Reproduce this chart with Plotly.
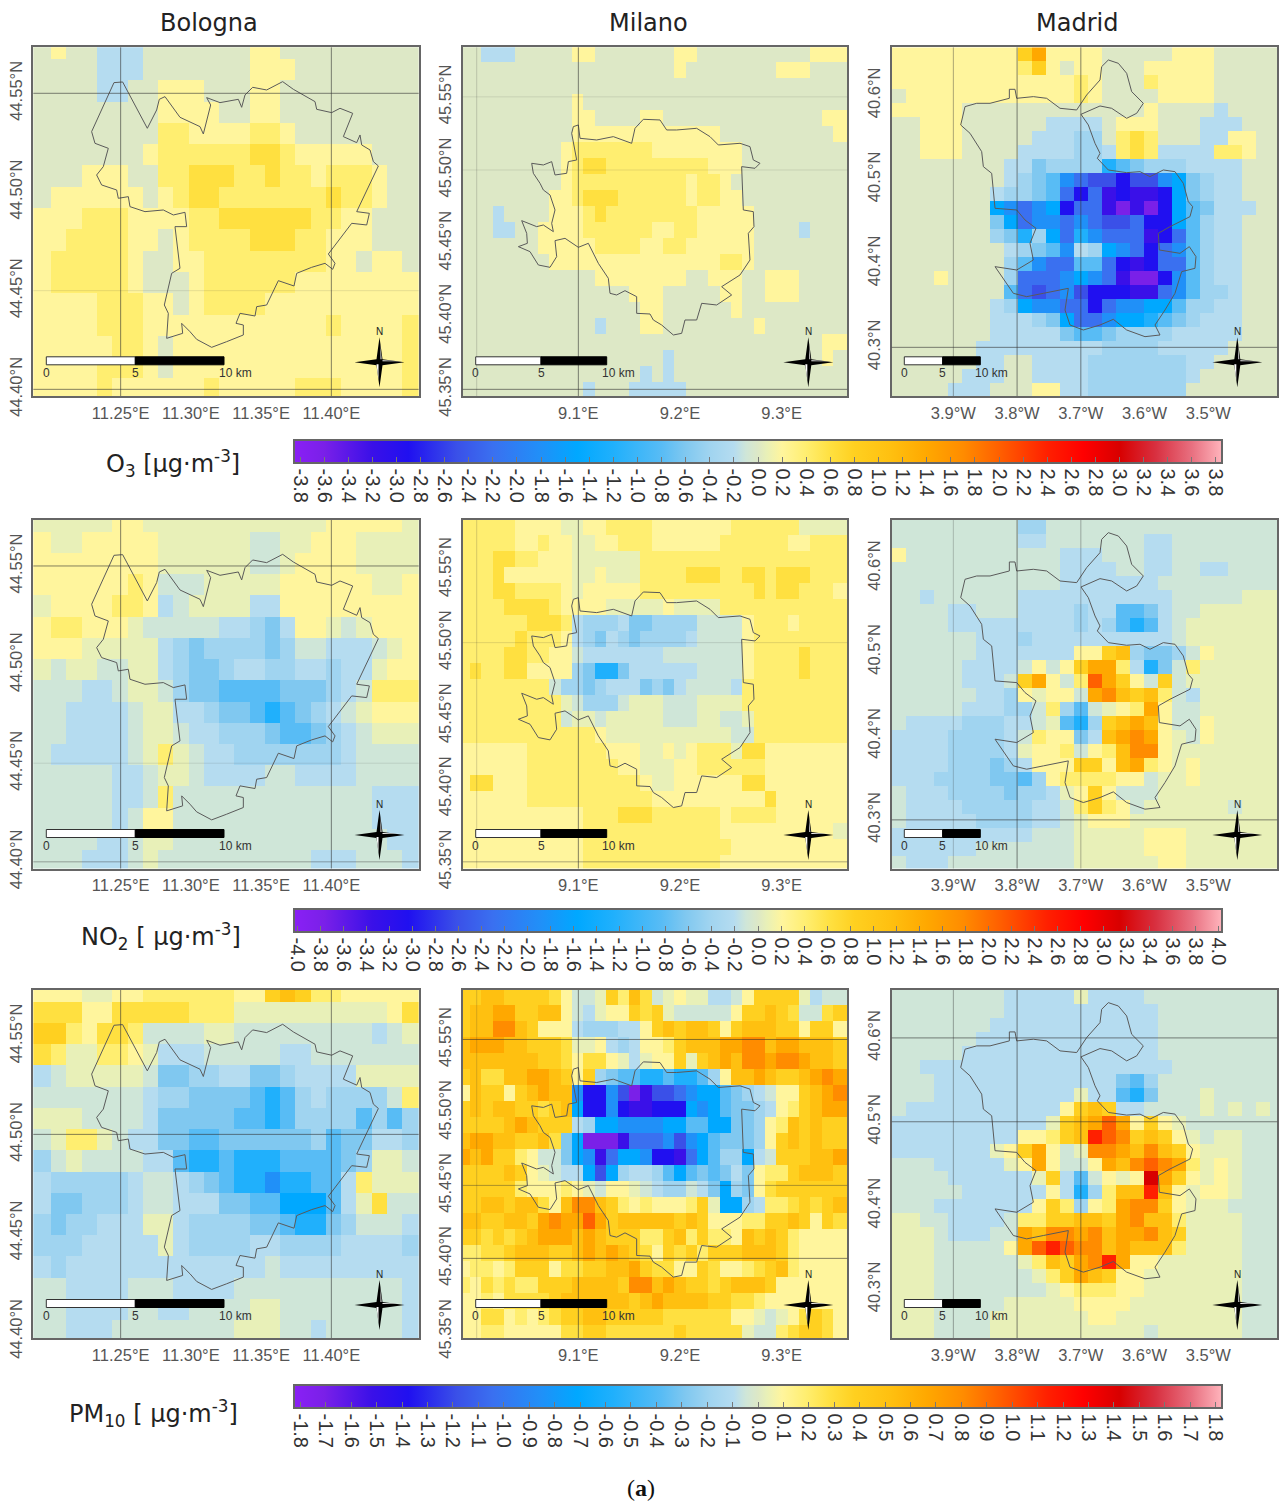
import re
import plotly.graph_objects as go

W, H = 1280, 1505

# ---------- colour levels (value in O3 units, colour) ----------
LEVEL_VALUES = {"o": -3.6, "n": -3.2, "m": -2.9, "l": -2.5, "k": -2.2, "j": -1.8, "i": -1.5, "f": -1.2,
                "e": -0.8, "d": -0.6, "c": -0.4, "b": -0.2, "a": -0.1, "g": 0.0, "h": 0.07, "y": 0.2,
                "Y": 0.4, "z": 0.6, "Z": 0.8, "q": 1.1, "r": 1.4, "s": 1.7, "t": 2.0, "u": 2.4, "v": 3.0}
COLOR_STOPS = [(-3.85, "#8a20f5"), (-3.6, "#7a20e8"), (-3.2, "#3a10e8"), (-2.9, "#2010f0"), (-2.5, "#3a50e8"),
               (-2.2, "#3a70f0"), (-1.8, "#2090f8"), (-1.5, "#00a8ff"), (-1.2, "#20b0fc"), (-0.8, "#58bcf5"),
               (-0.6, "#80c8f0"), (-0.4, "#a0d4f0"), (-0.2, "#b5dcf0"), (-0.1, "#cfe6d8"), (0.0, "#dde8c6"),
               (0.07, "#e8f0b8"), (0.2, "#fff59d"), (0.4, "#ffee70"), (0.6, "#ffe040"), (0.8, "#ffd020"),
               (1.1, "#ffc010"), (1.4, "#ffa800"), (1.7, "#ff8c00"), (2.0, "#ff6000"), (2.4, "#ff2000"),
               (2.7, "#ff0000"), (3.0, "#d80000"), (3.3, "#d83040"), (3.6, "#e87080"), (3.85, "#ffb4bc")]

# ---------- grids: rows top to bottom, "3g" = three cells of level g ----------
BOLOGNA_O3 = ["g y 2g 3b 7g 2y 9g", "4g 3b 7g 3y 8g", "4g 2b 2g 3y 3g 2y 9g", "8g 4y 2g 2y 9g", "8g 2Y 4y 2Y y 8g",
              "7g y 6Y 2z Y 5y 3g", "3g 3y 2g 2Y 3z 2Y z 2Y y 3Y y 2g", "g 6y g y Y 2z 7Y z 2Y y 2g",
              "3y 3Y 4y 2Y 6z 2Y 2y 3g", "2y 4Y 2y g y 4Y 3z 2Y 3y 3g", "y 5Y y 2g 2y 8Y 2y g 2y g",
              "y 5Y y 3g y 6Y 8y", "4y 3Y 2y g y 4Y 10y", "4y 3Y 12y Y 4y Y", "5y 2Y y g 15y Y", "4y 3Y y g 15y Y",
              "4y Y 6y Y 5y 3Y 4y Y"]
BOLOGNA_NO2 = ["5h 2y 12h 5y h", "y 2h 5y 6h 2a 2h 3y 4h", "8y 6h 2a h 4y 4h", "6y Y y 3a 5h 6y 2h y",
               "h 4y 2Y y b a 4h 2b 9y", "y 2Y 3y h 5a 2b c d b 2y h a h 3y", "3y 5h b c d 4c d c 2a 3b a h y",
               "h a 2h 2a 2h b c 2d c 2b 2c 2b c 2b h 2y", "3a 2b a 2h a c 2d 4e 3d c b a 3Y",
               "2a 4b a 2h b b c 2d e f e d c b a h 3y", "2a 4b a 2h a 2b 2c c d 2e d c b a 3h",
               "a 5b a h Y h a 2b 6c c b 4a", "5a 2b a 2h a 4b 2a 4b 4a", "5a 2b a Y 13a 3b", "5a b a 2y 13a 3b",
               "4a 2b a 2h 14a 2b", "3a 3b a h 10a 3b 3a b"]
BOLOGNA_PM10 = ["3y 2h 2y 6Y 2y Z q Z 2Y 5y", "3z 2y 5z 3Y 10h y z", "2Z Y y 2z Y 4a 2h 9a b a h",
                "z Y 2h 2Y y h 3b a 4a 2b 7a", "b a 5h a 2d 2c 2b 2d c 4b 4h", "3a 4a b 2c 4d e f e c b 3c c a Y",
                "3h 4a b 5d 2e f e 4c e c e c", "a h 2Y h a 2b 2d 2e 4d 2d c e d d 2b c",
                "c a h 4a 2b e 2f e 3f 2e 2e d c 2h a", "b 5c b 2a b c d e 2f j 2f e e b Y 3h",
                "b 2d 3c b 2a b 2b 2d e e 3i e b h z 2a", "c d 2c 3b 2h b 4c 2d e 2f d c 3a b",
                "3c 4b b h b 4c 2b 4c 4b c", "b c 13b a 9b", "2a 4b 3a 4b 11a b", "2a 4b 2a 2b 4a 2h 8a b",
                "2a 3b 8a 3h 2a b 5a b"]

MILANO_O3 = ["2g 3b 5g 2y 7g 2y 10g 3y", "19g y 8g 3y 3g", "34g", "10g y 23g", "10g 2y 4g 2y 14g 2y",
             "10g 13y 10g y", "9g y 7Y 8y 9g", "9g y Y 2z 9Y 3y 9g", "9g y 10Y y 2Y y 10g",
             "8g 2y Y 3z 6Y y 2Y 2y 9g", "3g b 4g 3y Y z 8Y 5y 8g", "3g 2b 2g 4y 6Y 2y 2Y 5y 4g b 3g",
             "7g 5y 4Y 2y 2Y 6y 8g", "8g 15y 2Y y 8g", "12g 8y 2g 3y 2g 3y 4g", "15g 3y 5g 2y 2g 3y 4g",
             "16g 2y 6g y 9g", "12g b 3g 2y 8g y 7g", "32g 2y", "18g b 13g y g", "16g b g b 15g",
             "11g b 3g 5b 14g"]
MILANO_NO2 = ["5Y 4y 2h 2y 4Y 7y 6Y 4h", "5Y 2y Y 2y 2h 2y 3Y 6y 6Y 2y 3Y", "3Y 2z 2Y 3y 6h 18Y",
              "3Y z 6y 2h y 3h 4Y 3z 2Y 2z Y 3z 3Y", "3Y 2z 4Y y h 5y 10Y z Y 2z 3Y y",
              "4Y 4z Y 4y 5h y 4h 11Y", "6Y 3z Y b 3c b 2d 4c 4a y 3Y y 4Y", "5Y z 3Y y b c d b c d 4c b 4a y 8Y",
              "4Y 2z 2Y 2y a 7b 7a y 4Y z 3Y", "Y z 2Y 2z 4y c d 2f d 6b 4a y 4Y z 3Y",
              "8Y a 2c d c 3b d c d b 4a b 8Y", "9Y h a 3c a 3h 3a 4h 9Y", "9Y a 2h a 5h 3a 2h 2a h 8Y",
              "12Y y 11h 2a 8Y", "6y 7Y 3y 2h y h y 3Y h 2z 7y", "6y 8Y 2y 3h 2y 6Y 7y",
              "y 2z 3y 2Y 8Y y 2h 6y 2z 7y", "6y 11Y 10y z 6y", "11y 3Y 3z 6Y y 4Y 6y", "11y 12Y 10y h",
              "11y 13Y 10y", "11y 12Y 11y"]
MILANO_PM10 = ["2Z 2q 4Z z y 2a h Z Y q z a h y 2h 2b a y 4Z h b 2a",
               "Z 2q 2r 2Z 2q y a b h 2y Z z Z h 5a y 2Z q Z z 2a z Z",
               "Z 2q 2s q Z 3y b 3c 2b y Z q Z 2q Z y Z 3q 2Z y 2Z y",
               "q 3r 2q 3Z z 2h y b c b 2y Y Z 3q 2r 2s q 2r 3q Z",
               "7q 2Z z y 2z y h b h 2y Z h Z q r q 2s r 2s r 2q Z",
               "Z q 2z 2q 2r q Z y Z c d 2e 2f e 2f e c y 2q r q 2Z q r s r",
               "y q 2Z y Z q r q q j 2m j l o n 2l k j 2i e d c b a 2y Z q r s",
               "Z q Z 2q 2Z z Z q i 2m j m 2n 3m i j i e 2d c b y Y Z q 2r",
               "4Z q r q 3Z b c 2i 4j 2i 2e 2i 2d c y Y q Z q 2Z",
               "q 2r 2q 2Z q z d i 3o n 3k j l j i e 3d c y Z q Z q 2Z",
               "r q r 2Z Y y 2a d i j n k 2i j 2m n k i e 2c i b a 3Z 2q r",
               "4Z q Z y h a 2b i l i c 2b c e i e d e d b d y 2Y Z 3q Z",
               "5Z Y 3y Y y h a 2y h a b 2c a b d i c d y z 6Z",
               "2Z 2q Z 2q z y q 2s q Z Y y Y 3y Y Z h 2i c b 2Y z Z z Z q",
               "2q 2Z 2q Z r s 2r t r Z 5q Z q Z 3y 2Y 2Z q Z y Z z",
               "2Z z Z z Z q 3r q r q 3Z 2Y Z q Y Z 2Y y q Z q Z Y 4y",
               "2Y 2z Z 3q 2Z q r q r q Z z y Z z Z Y 3Z 3q Z Y 4y",
               "y 2Y y Y 3Z y 2z 2Z 2q r Z 2z 2y Z z 2y Y z Z q Y 4y",
               "Y y z Y z 2Y 3Z 4q Z 2s q r q 2Z z Z 3q Z y 5y",
               "2y Y y 4z Z 6q Z q r 4q 2Z 2z Y 7y",
               "2y 2z y Y y Y z 2Z 2q 5Z 6z 2y h a h y z Z z y",
               "2y 2Y 5y 2z 2Z 6z Z 5z h 2a Y z 2Z z y"]

MADRID_O3 = ["9y Z r 4y 5g 3y 5g", "9y Y Z y g 2y 3g 5y 5g", "13y Y y 3g Y 4y 5g", "g 12y Y y 4g 4y 5g",
             "5y 13g y 4g b 4g", "2g 3y 6g 4b g 3y 3g 3b 3g", "2g 3y 5g 3b 2c g Y z Y 3g 2b 2y 2g",
             "2g 3y 4g 4b 2c b Y z Y 4b 2Y y 2g", "8g 2b d 4c f e d 3c 4b 3g",
             "8g b c d e j k 2l m 2l j i d c 2b 3g", "7g b 2c d e k m k n m 2n m i d c 2b 3g",
             "7g i j k j i m 2k n o n o m i e d 3b 2g", "7g d i k 2j k j k 2l k 2m i e c 2b 3g",
             "7g c d f c i k f j 3k n m k e c 2b 3g", "8g b c d e j b c i j k m k j e c 2b 3g",
             "8g c e j 2k 2e k m n m 2k e c 2b 3g", "3g y 4g c 3k j i j k n 2o m j e c 2b 3g",
             "8g e k l k j l 3m 2n k j e 2c b 3g", "7g b c i 2j 2k m k 2j 2i e 2c 2b 3g",
             "7g 3b c d i 2k j 2i f e d c 3b 3g", "7g 5b d 2e d 4c 5b 3g", "6g 9b 4c 5b 4g", "6g 2b 2g 4b 7c 2b 5g",
             "5g 3b 2g 4b 7c b 6g", "4g 3b 3g 2y 2b 7c 7g"]
MADRID_NO2 = ["9a 2c 17a", "9a 2b 7a 2b 8a", "y 11a 3b 3a 2b 8a", "12a 4b 2a 2b 2a 2b 4a", "12a 7b 9a",
              "2a b 6a 11b 5a 3h", "4a 2b 3a 4b c 2b 2e d b 2a 6h", "4a 9b c b c e f e b a 7h",
              "6a 3b c 10b a 7h", "6a 7b 2y Z q c 2d c a y 5h", "5a 4b a y a y Z 2r Y b f d a Y 6h",
              "5a 3b a Z r y a Y t r Z y a Z a h 6h", "6a 2b c y h 2y a r s q Z q Y a b 6h",
              "5a 3b 2c a Y c e a h y Y r y 2a 6h", "a 4b 3c 2b a h e f c Z q r q y 2a y 5h",
              "4b 4c b a Y 2y d b q r s r y h a y 5h", "4b 4c b h 2y Y a y Y q 2s y 8h",
              "4b 3c d c b 3y 2Z y q r Y y h y 6h", "3b 4c 2d e c y 4Y 2y a 2h y 6h",
              "a 3b 3c c d 2c b h y Z y 3a 9h", "a 4b 5c 2b a Y Z Y y a 6h a 3h", "a 5b 4c 2b a h 3y 11h",
              "10b 3a 5h 3y 7h", "6b 7a 5h 3y 7h", "a 3b 9a 6h 2y 7h"]
MADRID_PM10 = ["8a 5b h 4b 10a", "8a 11b 9a", "7a 12b 9a", "6a 13b 9a", "5a 14b 9a", "2a 18b 8a",
               "3a 13b d e c 9a", "3a 10b h 2b e f d 3a h 5a", "a 11b y Z q Z 2b 4a h a h a h a",
               "11b h Z q r t r y Z y h 7a", "9b 2y Y Z q u t s Z q Z y h a 2h 3a",
               "7b h y Z r y a h 2s r q s q Z y 3h 3a", "3a 5b h y r y 2a y r q s t s r Y h y h 3a",
               "4a 6b h Z b e a y h y v r Z y h y h 3a", "5a 6b y b f c Y 2q u q y h 2y h 3a",
               "3a 7b y Z Y c y Y r 2s Z y 3h 4a", "2h 2a 4b a 2Y 2Z 2q Z r s 2q Y 4h 3a",
               "3h a 3b 2a r q 2s r s q 2r s q Z 4h 3a", "3h 5a y r t u t 2s q r 3q Y 4h 3a",
               "3h 6a h Y q Z r s u r 2y 6h 3a", "3h 7a h Y Z r q Z 2y 7h 3a", "3h 8a h y 3Y 2y 7h 3a",
               "3h 5a 5h 4y 8h 3a", "3h 4a 7h 2y 9h 3a", "3h 4a 11h a 6h 3a"]

# ---------- city outlines, digitised on the map sheet and georeferenced below ----------
BOLOGNA_SHEET_X = [342, 368, 442, 470, 478, 495, 540, 600, 610, 632, 620, 660, 715, 725, 735, 758, 800, 832, 848, 880,
                   945, 950, 995, 1020, 1058, 1030, 1070, 1080, 1085, 1110, 1120, 1135, 1105, 1070, 1108, 1100, 1055,
                   985, 1005, 998, 975, 935, 890, 882, 835, 800, 770, 765, 720, 708, 730, 730, 680, 635, 590, 570, 545,
                   548, 500, 505, 493, 515, 540, 530, 525, 560, 555, 520, 490, 435, 390, 385, 355, 350, 305, 290, 310,
                   325, 285, 275, 342]
BOLOGNA_SHEET_Y = [158, 156, 295, 240, 208, 200, 262, 290, 312, 225, 203, 218, 208, 232, 195, 172, 180, 165, 155, 178,
                   215, 238, 248, 235, 250, 320, 338, 315, 345, 360, 395, 408, 470, 545, 550, 585, 580, 672, 700, 718,
                   700, 712, 730, 768, 752, 825, 830, 858, 850, 880, 885, 915, 935, 952, 928, 905, 880, 910, 925, 850,
                   825, 730, 715, 640, 590, 590, 547, 555, 540, 545, 530, 500, 505, 480, 465, 435, 410, 355, 340, 305,
                   158]
MILANO_SHEET_X = [415, 400, 395, 410, 385, 380, 345, 335, 310, 275, 280, 300, 310, 330, 345, 335, 340, 310, 290, 245,
                  260, 262, 235, 270, 295, 330, 350, 345, 375, 415, 445, 475, 505, 510, 530, 555, 590, 590, 630, 640,
                  665, 700, 725, 735, 770, 785, 830, 875, 845, 900, 930, 925, 942, 940, 910, 905, 945, 960, 940, 930,
                  900, 835, 810, 770, 710, 680, 660, 610, 585, 575, 520, 470, 420, 415]
MILANO_SHEET_Y = [285, 290, 310, 390, 395, 430, 435, 395, 405, 400, 430, 460, 480, 495, 540, 580, 605, 585, 590, 572,
                  610, 640, 650, 665, 705, 712, 680, 632, 625, 652, 640, 700, 745, 790, 795, 782, 800, 850, 852, 870,
                  885, 915, 910, 870, 870, 820, 825, 795, 770, 735, 690, 610, 590, 545, 540, 410, 415, 400, 390, 350,
                  340, 345, 320, 295, 300, 300, 270, 268, 295, 340, 320, 330, 325, 285]
MADRID_SHEET_X = [418, 435, 440, 490, 530, 570, 620, 650, 690, 695, 715, 745, 770, 785, 820, 800, 770, 725, 690, 633,
                  655, 675, 690, 682, 715, 770, 810, 840, 880, 915, 940, 955, 968, 960, 900, 865, 868, 930, 958, 978,
                  975, 935, 915, 885, 855, 870, 825, 770, 730, 690, 640, 600, 585, 595, 520, 470, 430, 400, 375, 440,
                  490, 480, 498, 465, 440, 375, 370, 365, 340, 335, 300, 272, 285, 320, 360, 418, 418]
MADRID_SHEET_Y = [178, 178, 205, 200, 205, 235, 240, 195, 150, 110, 90, 100, 130, 185, 220, 250, 265, 235, 228, 253,
                  285, 340, 370, 385, 420, 428, 425, 440, 420, 425, 460, 515, 530, 560, 590, 610, 660, 670, 650, 680,
                  715, 725, 790, 840, 885, 915, 920, 900, 868, 885, 900, 885, 840, 775, 790, 800, 790, 745, 710, 720,
                  690, 640, 595, 570, 540, 535, 490, 430, 410, 365, 310, 285, 230, 220, 220, 205, 178]

# ---------- panel geometry ----------
COL_X = [(33.3, 418.7), (462.7, 847.3), (891.7, 1277.3)]
ROW_Y = [(47.3, 396), (520, 868.5), (990, 1338)]
ROW_NAMES = ["O3", "NO2", "PM10"]
VMAX = [3.85, 4.03, 1.825]
TICK_LABELS = [[f"{v/10:.1f}" for v in range(-38, 39, 2)],
               [f"{v/10:.1f}" for v in range(-40, 41, 2)],
               [f"{v/10:.1f}" for v in range(-18, 19, 1)]]
BAR_Y = [(440, 463), (909, 932), (1385, 1408)]

CITIES = [
    dict(name="Bologna", title_x=209, n=25, pad_left=True, rows_n=17,
         lon=lambda X: 11.25 + (X - 362) * 0.15 / 632, lat=lambda Y: 44.55 - (Y - 190) * 0.15 / 888,
         x0=62.2, dx=45.8, y0=23.2, dy=63.8, sheet=(100, 1256, 52, 1098),
         xticks=[11.25, 11.30, 11.35, 11.40], xtext=["11.25°E", "11.30°E", "11.35°E", "11.40°E"],
         yticks=[44.40, 44.45, 44.50, 44.55], ytext=["44.40°N", "44.45°N", "44.50°N", "44.55°N"],
         grids=[BOLOGNA_O3, BOLOGNA_NO2, BOLOGNA_PM10], bx=BOLOGNA_SHEET_X, by=BOLOGNA_SHEET_Y,
         bar=(46.3, 135.3, 224), comp=379.5,
         v=[[(11.25, .6), (11.40, .6)]] * 3,
         h=[[(44.55, .6), (44.45, .12), (44.40, .6)], [(44.55, .6), (44.45, .12), (44.40, .4)], [(44.50, .6)]]),
    dict(name="Milano", title_x=648, n=34, pad_left=False, rows_n=22,
         lon=lambda X: 9.1 + (X - 415) * 0.2 / 610, lat=lambda Y: 45.50 - (Y - 420) * 0.15 / 658,
         x0=56, dx=34, y0=49, dy=48.05, sheet=(68, 1222, 52, 1098),
         xticks=[9.1, 9.2, 9.3], xtext=["9.1°E", "9.2°E", "9.3°E"],
         yticks=[45.35, 45.40, 45.45, 45.50, 45.55], ytext=["45.35°N", "45.40°N", "45.45°N", "45.50°N", "45.55°N"],
         grids=[MILANO_O3, MILANO_NO2, MILANO_PM10], bx=MILANO_SHEET_X, by=MILANO_SHEET_Y,
         bar=(475.7, 541, 606.7), comp=808.3,
         v=[[(9.0, .2), (9.1, .6)]] * 3,
         h=[[(45.55, .12), (45.50, .12), (45.35, .6)], [(45.50, .15), (45.35, .4)], [(45.55, .6), (45.45, .4), (45.40, .6)]]),
    dict(name="Madrid", title_x=1077, n=28, pad_left=False, rows_n=25,
         lon=lambda X: -3.9 + (X - 250) * 0.4 / 765, lat=lambda Y: 40.3 + (952 - Y) * 0.3 / 756,
         x0=65, dx=42, y0=52, dy=42, sheet=(65, 1222, 52, 1098),
         xticks=[-3.9, -3.8, -3.7, -3.6, -3.5], xtext=["3.9°W", "3.8°W", "3.7°W", "3.6°W", "3.5°W"],
         yticks=[40.3, 40.4, 40.5, 40.6], ytext=["40.3°N", "40.4°N", "40.5°N", "40.6°N"],
         grids=[MADRID_O3, MADRID_NO2, MADRID_PM10], bx=MADRID_SHEET_X, by=MADRID_SHEET_Y,
         bar=(904.3, 942.7, 980.3), comp=1237.3,
         v=[[(-3.9, .4), (-3.8, .6), (-3.7, .6)], [(-3.9, .25), (-3.8, .6), (-3.7, .35)], [(-3.9, .4), (-3.8, .6), (-3.7, .6)]],
         h=[[(40.3, .6)], [(40.3, .6)], [(40.6, .6), (40.5, .6)]]),
]


def px(x):
    return x / W


def py(y):
    return 1 - y / H


def decode(rows, n):
    out = []
    for row in rows:
        cells = []
        for count, level in re.findall(r"(\d*)([A-Za-z])", row):
            cells += [LEVEL_VALUES[level]] * int(count or 1)
        cells = (cells + [cells[-1]] * n)[:n]
        out.append(cells)
    return out


fig = go.Figure()
layout = dict(width=W, height=H, margin=dict(l=0, r=0, t=0, b=0, pad=0, autoexpand=False), paper_bgcolor="white",
              plot_bgcolor="white", showlegend=False, font=dict(family="Liberation Sans", color="#444"))
shapes, annotations = [], []
colorscale = [[(v + 3.85) / 7.7, c] for v, c in COLOR_STOPS]

axis_id = 0
for r in range(3):
    for c, city in enumerate(CITIES):
        axis_id += 1
        suffix = "" if axis_id == 1 else str(axis_id)
        xa, ya = f"x{suffix}", f"y{suffix}"
        lon, lat = city["lon"], city["lat"]
        sx0, sx1, sy0, sy1 = city["sheet"]
        factor = VMAX[r] / 3.85
        z = decode(city["grids"][r], city["n"])
        z = [[v * factor for v in row] for row in z]
        if city["pad_left"]:
            z = [[row[0]] + row + [row[-1]] for row in z]
        else:
            z = [row + [row[-1]] for row in z]
        ncol = len(z[0])
        xedges = [lon(city["x0"] + city["dx"] * k) for k in range(ncol + 1)]
        yedges = [lat(city["y0"] + city["dy"] * k) for k in range(len(z) + 1)]
        fig.add_trace(go.Heatmap(z=z[::-1], x=xedges, y=yedges[::-1], coloraxis="coloraxis" + (str(r + 1) if r else ""),
                                 xaxis=xa, yaxis=ya, hoverinfo="skip", zsmooth=False))
        fig.add_trace(go.Scatter(x=[lon(v) for v in city["bx"]], y=[lat(v) for v in city["by"]], mode="lines",
                                 line=dict(color="#5a5a5a", width=1), xaxis=xa, yaxis=ya, hoverinfo="skip"))
        X0, X1 = COL_X[c]
        Y0, Y1 = ROW_Y[r]
        common = dict(showline=True, mirror=True, linecolor="#666", linewidth=1.5, showgrid=False, zeroline=False,
                      ticks="outside", tickcolor="rgba(0,0,0,0)", tickfont=dict(size=16.5, color="#555"))
        layout[f"xaxis{suffix}"] = dict(domain=[px(X0), px(X1)], range=[lon(sx0), lon(sx1)], anchor=ya, ticklen=1,
                                        tickvals=city["xticks"], ticktext=city["xtext"], tickangle=0, **common)
        layout[f"yaxis{suffix}"] = dict(domain=[py(Y1), py(Y0)], range=[lat(sy1), lat(sy0)], anchor=xa, ticklen=3,
                                        tickvals=city["yticks"], ticktext=city["ytext"], tickangle=-90, **common)
        for v, alpha in city["v"][r]:
            shapes.append(dict(type="line", xref=xa, yref=f"{ya} domain", x0=v, x1=v, y0=0, y1=1,
                               line=dict(color=f"rgba(50,50,50,{alpha})", width=1)))
        for v, alpha in city["h"][r]:
            shapes.append(dict(type="line", xref=f"{xa} domain", yref=ya, x0=0, x1=1, y0=v, y1=v,
                               line=dict(color=f"rgba(50,50,50,{alpha})", width=1)))
        # scale bar
        b0, b1, b2 = city["bar"]
        by0 = Y0 + 309.5
        shapes.append(dict(type="rect", xref="paper", yref="paper", x0=px(b0), x1=px(b1), y0=py(by0), y1=py(by0 + 8),
                           fillcolor="white", line=dict(color="#333", width=1)))
        shapes.append(dict(type="rect", xref="paper", yref="paper", x0=px(b1), x1=px(b2), y0=py(by0), y1=py(by0 + 8),
                           fillcolor="black", line=dict(color="black", width=1)))
        for text, xp, anchor in [("0", b0, "center"), ("5", b1, "center"), ("10 km", b2 - 7, "left")]:
            annotations.append(dict(text=text, x=px(xp), y=py(by0 + 16), xref="paper", yref="paper", xanchor=anchor,
                                    yanchor="middle", showarrow=False, font=dict(size=12, color="#333")))
        # north arrow
        cx, cy = city["comp"], Y0 + 315
        pts = [(0, -25), (3, -3), (25, 0), (3, 3), (0, 25), (-3, 3), (-25, 0), (-3, -3)]
        path = "M " + " L ".join(f"{px(cx + a)},{py(cy + b)}" for a, b in pts) + " Z"
        shapes.append(dict(type="path", xref="paper", yref="paper", path=path, fillcolor="black", line=dict(width=0)))
        for tri in ([(3, -2), (21, -1), (3, -1)], [(-3, 2), (-1, 2), (-1, 18)], [(1, -3), (1, -18), (2, -3)]):
            path = "M " + " L ".join(f"{px(cx + a)},{py(cy + b)}" for a, b in tri) + " Z"
            shapes.append(dict(type="path", xref="paper", yref="paper", path=path, fillcolor="white", line=dict(width=0)))
        annotations.append(dict(text="N", x=px(cx), y=py(cy - 31), xref="paper", yref="paper", showarrow=False,
                                xanchor="center", yanchor="middle", font=dict(size=10, color="#222")))

for c, city in enumerate(CITIES):
    annotations.append(dict(text=city["name"], x=px(city["title_x"]), y=py(23), xref="paper", yref="paper",
                            xanchor="center", yanchor="middle", showarrow=False,
                            font=dict(family="DejaVu Sans", size=24, color="#222")))

LABELS = [("O<sub>3</sub> [µg·m<sup>-3</sup>]", 242, 464), ("NO<sub>2</sub> [ µg·m<sup>-3</sup>]", 243, 936),
          ("PM<sub>10</sub> [ µg·m<sup>-3</sup>]", 240, 1413)]
for text, x, y in LABELS:
    annotations.append(dict(text=text, x=px(x), y=py(y), xref="paper", yref="paper", xanchor="right", yanchor="middle",
                            showarrow=False, font=dict(family="DejaVu Sans", size=24, color="#222")))
annotations.append(dict(text="(<b>a</b>)", x=px(641), y=py(1488), xref="paper", yref="paper", showarrow=False,
                        xanchor="center", yanchor="middle", font=dict(family="Liberation Serif", size=24, color="#111")))

for r in range(3):
    key = "coloraxis" + (str(r + 1) if r else "")
    y0, y1 = BAR_Y[r]
    layout[key] = dict(
        colorscale=colorscale, cmin=-VMAX[r], cmax=VMAX[r],
        colorbar=dict(orientation="h", x=px(294), xanchor="left", y=py(y0), yanchor="top", len=928, lenmode="pixels",
                      thickness=y1 - y0, thicknessmode="pixels", xpad=0, ypad=0, outlinecolor="#666", outlinewidth=2,
                      ticks="inside", ticklen=7, tickcolor="#777", tickwidth=1, tickangle=90,
                      tickvals=[float(t) for t in TICK_LABELS[r]], ticktext=TICK_LABELS[r], tickmode="array",
                      tickfont=dict(size=20, color="#333")))

layout["shapes"] = shapes
layout["annotations"] = annotations
fig.update_layout(**layout)
fig.write_html("out.html", config={"displayModeBar": False},
               post_script="document.body.style.margin='0';document.body.style.overflow='hidden';")
